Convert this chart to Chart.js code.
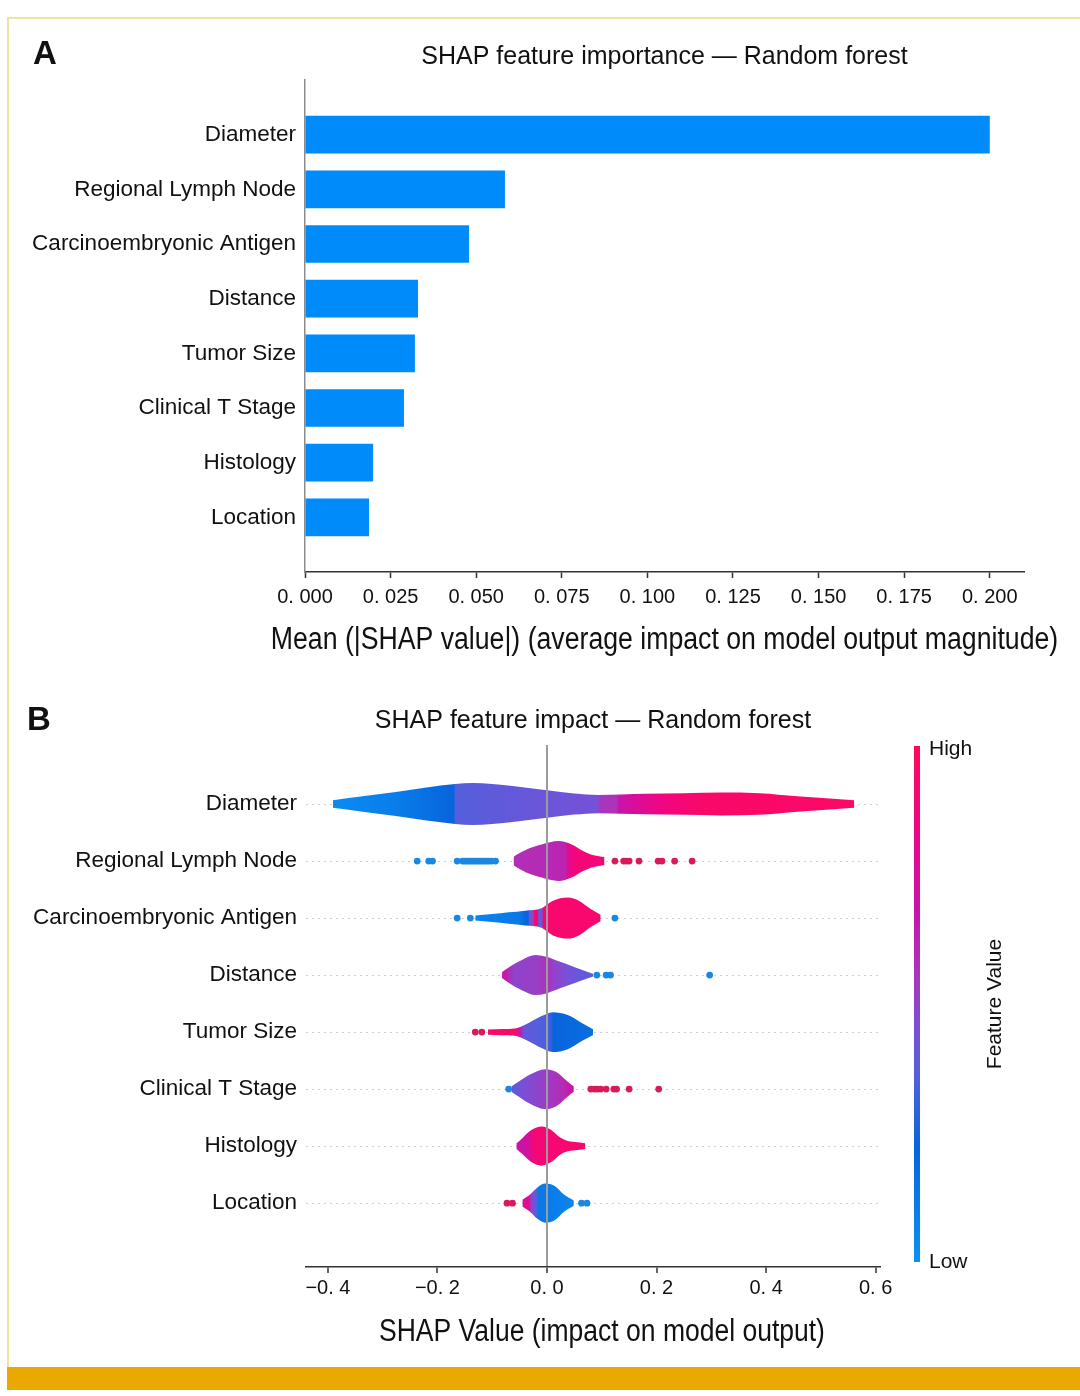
<!DOCTYPE html>
<html>
<head>
<meta charset="utf-8">
<script src="https://cdn.jsdelivr.net/npm/chart.js@4.4.1/dist/chart.umd.min.js"></script>
<style>
  body { margin: 0; width: 1080px; height: 1396px; background: #fff; position: relative; overflow: hidden; font-family: 'Liberation Sans', Arial, sans-serif; }
  #frame { position: absolute; left: 7px; top: 17px; width: 1080px; height: 1352px; border-top: 2px solid #efe2a2; border-left: 2px solid #efe2a2; box-sizing: border-box; }
  #goldBar { position: absolute; left: 7px; top: 1367px; width: 1073px; height: 23px; background: #eaa900; }
  .panel { position: absolute; left: 0; width: 1080px; }
  #wrapA { top: 0; height: 680px; }
  #wrapB { top: 680px; height: 687px; }
  .tag { position: absolute; font-weight: bold; font-size: 33px; color: #111; }
</style>
</head>
<body>
<div id="frame"></div>
<div id="goldBar"></div>
<div class="panel" id="wrapA"><canvas id="chartA"></canvas></div>
<div class="panel" id="wrapB"><canvas id="chartB"></canvas></div>
<div class="tag" style="left:33px;top:34px">A</div>
<div class="tag" style="left:27px;top:700px">B</div>
<script>
// features, top to bottom
var features = ['Diameter', 'Regional Lymph Node', 'Carcinoembryonic Antigen', 'Distance',
                'Tumor Size', 'Clinical T Stage', 'Histology', 'Location'];

// panel A: mean |SHAP|
var meanAbsShap = [0.200, 0.0584, 0.0479, 0.0330, 0.0321, 0.0289, 0.0199, 0.0187];
var importanceTicks = [0, 0.025, 0.05, 0.075, 0.1, 0.125, 0.15, 0.175, 0.2];
var importanceTickLabels = ['0. 000', '0. 025', '0. 050', '0. 075', '0. 100', '0. 125', '0. 150', '0. 175', '0. 200'];

// panel B: violin outlines (SHAP value, half width in rows)
var violinX = [
  [-0.391, -0.34, -0.276, -0.22, -0.168, -0.136, -0.1, -0.059, 0, 0.05, 0.094, 0.178, 0.25, 0.318, 0.388, 0.457, 0.51, 0.561],
  [-0.061, -0.05, -0.038, -0.01, 0.021, 0.045, 0.065, 0.08, 0.095, 0.105],
  [-0.131, -0.1, -0.07, -0.04, -0.01, -0.003, 0.01, 0.038, 0.059, 0.08, 0.098],
  [-0.082, -0.07, -0.045, -0.021, -0.003, 0.024, 0.052, 0.077, 0.084],
  [-0.108, -0.08, -0.059, -0.049, -0.031, -0.01, 0.01, 0.038, 0.066, 0.084],
  [-0.065, -0.052, -0.031, -0.003, 0.017, 0.038, 0.049],
  [-0.056, -0.045, -0.028, -0.01, 0.007, 0.024, 0.038, 0.056, 0.07],
  [-0.045, -0.031, -0.017, -0.003, 0.014, 0.031, 0.049]
];
var violinHalf = [
  [0.066, 0.13, 0.21, 0.29, 0.35, 0.37, 0.35, 0.31, 0.24, 0.185, 0.16, 0.18, 0.19, 0.2, 0.19, 0.135, 0.1, 0.064],
  [0.075, 0.14, 0.2, 0.29, 0.35, 0.29, 0.18, 0.116, 0.085, 0.07],
  [0.045, 0.07, 0.1, 0.13, 0.17, 0.215, 0.3, 0.36, 0.3, 0.157, 0.058],
  [0.052, 0.134, 0.27, 0.35, 0.326, 0.233, 0.134, 0.047, 0.023],
  [0.045, 0.055, 0.064, 0.09, 0.174, 0.28, 0.35, 0.3, 0.145, 0.05],
  [0.045, 0.128, 0.256, 0.35, 0.3, 0.128, 0.045],
  [0.047, 0.14, 0.285, 0.343, 0.285, 0.15, 0.09, 0.07, 0.05],
  [0.058, 0.15, 0.28, 0.343, 0.3, 0.15, 0.047]
];
// feature value colour along each violin (0 = low, 1 = high)
var colorX = [
  [-0.391, -0.276, -0.17, -0.167, 0, 0.093, 0.095, 0.128, 0.13, 0.21, 0.28, 0.561],
  [-0.061, 0, 0.035, 0.037, 0.05, 0.105],
  [-0.131, -0.05, -0.039, -0.034, -0.033, -0.024, -0.023, -0.017, -0.016, -0.009, -0.007, 0.098],
  [-0.082, -0.072, -0.06, -0.02, 0, 0.015, 0.04, 0.084],
  [-0.108, -0.06, -0.05, -0.042, -0.015, 0.005, 0.012, 0.084],
  [-0.065, -0.05, -0.003, 0.03, 0.049],
  [-0.056, -0.035, -0.03, -0.022, 0.07],
  [-0.045, -0.033, -0.028, -0.02, -0.015, 0.049]
];
var colorVal = [
  [0.03, 0.1, 0.22, 0.36, 0.42, 0.44, 0.55, 0.57, 0.68, 0.85, 0.94, 0.96],
  [0.58, 0.6, 0.63, 0.78, 0.88, 0.9],
  [0.06, 0.12, 0.22, 0.22, 0.45, 0.47, 0.95, 0.95, 0.4, 0.42, 0.92, 0.93],
  [0.7, 0.62, 0.5, 0.52, 0.56, 0.5, 0.44, 0.37],
  [0.96, 0.94, 0.7, 0.4, 0.36, 0.32, 0.22, 0.17],
  [0.36, 0.44, 0.52, 0.6, 0.72],
  [0.68, 0.72, 0.8, 0.9, 0.94],
  [0.8, 0.76, 0.48, 0.38, 0.12, 0.06]
];
// single points outside the violins
var dotX = [
  [],
  [-0.237, -0.216, -0.209, -0.164, -0.154, -0.150, -0.146, -0.142, -0.138, -0.134, -0.130, -0.126, -0.122, -0.118, -0.114, -0.110, -0.106, -0.101, -0.094,
   0.124, 0.140, 0.145, 0.150, 0.168, 0.203, 0.210, 0.233, 0.265],
  [-0.164, -0.140, 0.124],
  [0.091, 0.108, 0.116, 0.297],
  [-0.131, -0.119],
  [-0.070, 0.080, 0.087, 0.092, 0.098, 0.108, 0.122, 0.127, 0.150, 0.204],
  [],
  [-0.073, -0.063, 0.063, 0.073]
];
var dotVal = [
  [],
  [0, 0, 0, 0, 0, 0, 0, 0, 0, 0, 0, 0, 0, 0, 0, 0, 0, 0, 0, 1, 1, 1, 1, 1, 1, 1, 1, 1],
  [0, 0, 0],
  [0, 0, 0, 0],
  [1, 1],
  [0, 1, 1, 1, 1, 1, 1, 1, 1, 1],
  [],
  [1, 1, 0, 0]
];
var impactTicks = [-0.4, -0.2, 0, 0.2, 0.4, 0.6];
var impactTickLabels = ['\u22120. 4', '\u22120. 2', '0. 0', '0. 2', '0. 4', '0. 6'];

// blue -> purple -> red colour map
var cmapPos = [0, 0.22, 0.36, 0.45, 0.57, 0.68, 0.85, 1];
var cmapRGB = [[10, 145, 245], [8, 100, 220], [85, 95, 220], [120, 80, 215], [175, 50, 185], [200, 20, 170], [240, 5, 130], [255, 10, 90]];

function cmap(c) {
  for (var k = 1; k < cmapPos.length; k++) {
    if (c <= cmapPos[k]) {
      var t = (c - cmapPos[k - 1]) / (cmapPos[k] - cmapPos[k - 1]);
      var a = cmapRGB[k - 1], b = cmapRGB[k];
      return 'rgb(' + Math.round(a[0] + (b[0] - a[0]) * t) + ',' + Math.round(a[1] + (b[1] - a[1]) * t) + ',' + Math.round(a[2] + (b[2] - a[2]) * t) + ')';
    }
  }
  var e = cmapRGB[cmapRGB.length - 1];
  return 'rgb(' + e[0] + ',' + e[1] + ',' + e[2] + ')';
}

function violinFill(chart, i) {
  var xs = chart.scales && chart.scales.x;
  if (!xs || !isFinite(xs.left) || !isFinite(xs.right) || xs.right <= xs.left) return cmap(colorVal[i][0]);
  var g = chart.ctx.createLinearGradient(xs.left, 0, xs.right, 0);
  var last = 0;
  colorX[i].forEach(function (v, k) {
    var off = (xs.getPixelForValue(v) - xs.left) / (xs.right - xs.left);
    if (!isFinite(off)) off = last;
    off = Math.min(1, Math.max(last, off));
    last = off;
    g.addColorStop(off, cmap(colorVal[i][k]));
  });
  return g;
}

var sans = "'Liberation Sans', Arial, sans-serif";

Chart.defaults.color = '#111';
Chart.defaults.animation = false;

// condensed axis title under the plot
var axisTitle = {
  id: 'axisTitle',
  afterDraw: function (chart, args, opts) {
    var a = chart.chartArea, ctx = chart.ctx;
    ctx.save();
    ctx.font = opts.size + 'px ' + sans;
    ctx.fillStyle = '#111';
    ctx.textAlign = 'center';
    ctx.textBaseline = 'middle';
    ctx.translate((a.left + a.right) / 2 + (opts.dx || 0), a.bottom + opts.dy);
    ctx.scale(opts.squeeze, 1);
    ctx.fillText(opts.text, 0, 0);
    ctx.restore();
  }
};

// ---------- A ----------
new Chart(document.getElementById('chartA'), {
  type: 'bar',
  data: {
    datasets: [{
      data: meanAbsShap.map(function (v, i) { return { x: v, y: i }; }),
      backgroundColor: '#008bfb',
      barPercentage: 0.69,
      categoryPercentage: 1
    }]
  },
  plugins: [axisTitle],
  options: {
    indexAxis: 'y',
    responsive: true,
    maintainAspectRatio: false,
    layout: { padding: { left: 0, right: 56, top: 0, bottom: 0 } },
    plugins: {
      legend: { display: false },
      tooltip: { enabled: false },
      title: {
        display: true, fullSize: false,
        text: 'SHAP feature importance \u2014 Random forest',
        color: '#111',
        font: { family: sans, size: 25, weight: 'normal' },
        padding: { top: 42, bottom: 8 }
      },
      axisTitle: { text: 'Mean (|SHAP value|) (average impact on model output magnitude)', size: 31, squeeze: 0.86, dy: 68, dx: 0 }
    },
    scales: {
      x: {
        type: 'linear', min: 0, max: 0.21,
        afterBuildTicks: function (s) { s.ticks = importanceTicks.map(function (v) { return { value: v }; }); },
        afterFit: function (s) { s.height = 108; },
        ticks: {
          callback: function (v, i) { return importanceTickLabels[i]; },
          font: { family: sans, size: 20 }, color: '#111', padding: 7, maxRotation: 0, autoSkip: false
        },
        grid: { drawOnChartArea: false, drawTicks: true, tickLength: 6, tickColor: '#333', tickWidth: 1.5 },
        border: { display: true, color: '#333', width: 1.5 }
      },
      y: {
        type: 'linear', reverse: true, min: -1, max: 8, offset: false,
        afterBuildTicks: function (s) { s.ticks = features.map(function (f, i) { return { value: i }; }); },
        afterFit: function (s) { s.width = 305; },
        ticks: {
          callback: function (v) { return features[v]; },
          font: { family: sans, size: 22.5 }, color: '#111', padding: 9, autoSkip: false
        },
        grid: { display: false, drawTicks: false, offset: false },
        border: { display: true, color: '#8c8c8c', width: 1.5 }
      }
    }
  }
});

// ---------- B ----------
var colorBar = {
  id: 'colorBar',
  afterDraw: function (chart) {
    var ctx = chart.ctx, a = chart.chartArea;
    var x = a.right + 34, top = a.top + 1, bottom = a.bottom - 5;
    var g = ctx.createLinearGradient(0, bottom, 0, top);
    cmapPos.forEach(function (p) { g.addColorStop(p, cmap(p)); });
    ctx.save();
    ctx.fillStyle = g;
    ctx.fillRect(x, top, 6, bottom - top);
    ctx.fillStyle = '#111';
    ctx.font = '21px ' + sans;
    ctx.textAlign = 'left';
    ctx.textBaseline = 'middle';
    ctx.fillText('High', x + 15, top + 3);
    ctx.fillText('Low', x + 15, bottom);
    ctx.translate(x + 81, (top + bottom) / 2);
    ctx.rotate(-Math.PI / 2);
    ctx.textAlign = 'center';
    ctx.fillText('Feature Value', 0, 0);
    ctx.restore();
  }
};

var datasetsB = [];
features.forEach(function (f, i) {
  datasetsB.push({
    data: violinX[i].map(function (x, k) { return { x: x, y: i - violinHalf[i][k] }; }),
    showLine: true, fill: false, borderWidth: 0, borderColor: 'rgba(0,0,0,0)',
    pointRadius: 0, cubicInterpolationMode: 'monotone'
  });
  datasetsB.push({
    data: violinX[i].map(function (x, k) { return { x: x, y: i + violinHalf[i][k] }; }),
    showLine: true, fill: '-1', borderWidth: 0, borderColor: 'rgba(0,0,0,0)',
    backgroundColor: function (c) { return violinFill(c.chart, i); },
    pointRadius: 0, cubicInterpolationMode: 'monotone'
  });
});
var dotPts = [], dotColors = [];
features.forEach(function (f, i) {
  dotX[i].forEach(function (x, k) {
    dotPts.push({ x: x, y: i });
    dotColors.push(dotVal[i][k] > 0.5 ? '#d81a58' : '#1a88e2');
  });
});
datasetsB.push({
  data: dotPts, showLine: false, pointRadius: 3.4, pointBorderWidth: 0,
  pointBackgroundColor: dotColors, pointBorderColor: dotColors
});

new Chart(document.getElementById('chartB'), {
  type: 'scatter',
  data: { datasets: datasetsB },
  plugins: [colorBar, axisTitle],
  options: {
    responsive: true,
    maintainAspectRatio: false,
    layout: { padding: { left: 0, right: 200, top: 0, bottom: 0 } },
    plugins: {
      legend: { display: false },
      tooltip: { enabled: false },
      title: {
        display: true, fullSize: false,
        text: 'SHAP feature impact \u2014 Random forest',
        color: '#111',
        font: { family: sans, size: 25, weight: 'normal' },
        padding: { top: 26, bottom: 9 }
      },
      axisTitle: { text: 'SHAP Value (impact on model output)', size: 31, squeeze: 0.855, dy: 65, dx: 9 }
    },
    scales: {
      x: {
        type: 'linear', min: -0.44, max: 0.608,
        afterBuildTicks: function (s) { s.ticks = impactTicks.map(function (v) { return { value: v }; }); },
        afterFit: function (s) { s.height = 100; },
        ticks: {
          callback: function (v, i) { return impactTickLabels[i]; },
          font: { family: sans, size: 20 }, color: '#111', padding: 3, maxRotation: 0, autoSkip: false
        },
        grid: {
          z: 1,
          color: function (c) { return c.tick && c.tick.value === 0 ? '#9b9b9b' : 'rgba(0,0,0,0)'; },
          lineWidth: 2,
          drawTicks: true, tickLength: 6, tickColor: '#333', tickWidth: 1.5
        },
        border: { display: true, color: '#333', width: 1.5, z: 2 }
      },
      y: {
        type: 'linear', reverse: true, min: -1.035, max: 8.12,
        afterBuildTicks: function (s) { s.ticks = features.map(function (f, i) { return { value: i }; }); },
        afterFit: function (s) { s.width = 306; },
        ticks: {
          callback: function (v) { return features[v]; },
          font: { family: sans, size: 22.5 }, color: '#111', padding: 9, autoSkip: false
        },
        grid: { color: '#cdcdcd', lineWidth: 1, drawTicks: false },
        border: { display: false, dash: [2, 4] }
      }
    }
  }
});
</script>
</body>
</html>
